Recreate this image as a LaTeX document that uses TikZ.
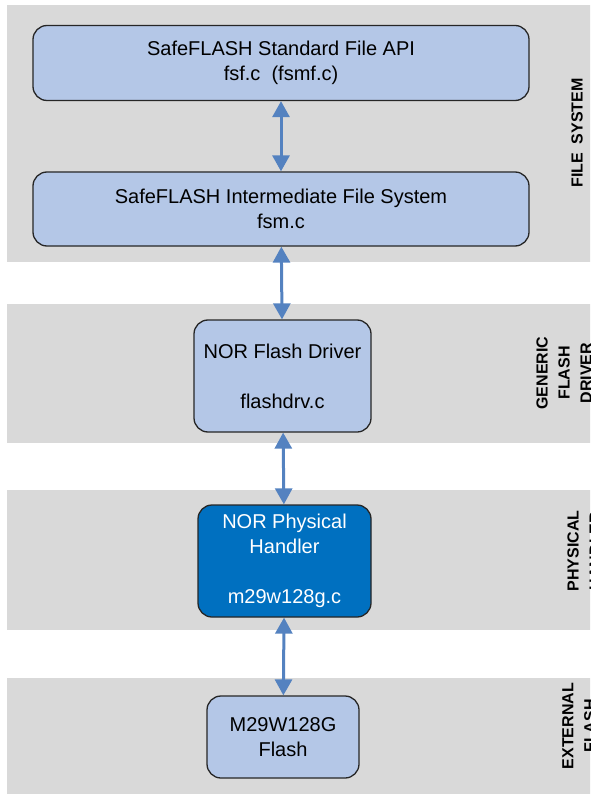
\documentclass[tikz,border=0pt]{standalone}
\usepackage{fontspec}
\setmainfont{Liberation Sans}
\usetikzlibrary{arrows.meta}

\definecolor{bandgray}{RGB}{217,217,217}
\definecolor{boxblue}{RGB}{180,199,231}
\definecolor{darkblue}{RGB}{0,112,192}
\definecolor{arrowblue}{RGB}{84,130,192}

\tikzset{
  layer/.style={fill=bandgray},
  module/.style={draw=black!85, line width=1.3pt, rounded corners=14pt, fill=boxblue,
    align=center, inner sep=0pt, font=\fontsize{20}{25}\selectfont},
  hwmodule/.style={module, fill=darkblue, text=white},
  tag/.style={rotate=90, align=center, inner sep=0pt, font=\fontsize{16}{22}\selectfont\bfseries},
  link/.style={arrowblue, line width=3pt,
    {Triangle[width=17pt,length=16pt]}-{Triangle[width=17pt,length=16pt]}},
}

\begin{document}
\begin{tikzpicture}[x=1pt, y=-1pt]

        \useasboundingbox (0,0) rectangle (590,794);
        \clip (0,0) rectangle (590,794);

        % Layers

        \fill[layer] (7,5) rectangle (600,262);
        \fill[layer] (7,304) rectangle (600,443);
        \fill[layer] (7,490) rectangle (600,630);
        \fill[layer] (7,678) rectangle (600,800);

        % Nodes

        \node[module, minimum width=496pt, minimum height=75pt] (api) at (281,63)
          {SafeFLASH Standard File API\\fsf.c\ \ (fsmf.c)};
        \node[module, minimum width=496pt, minimum height=74pt] (fsm) at (281,209)
          {SafeFLASH Intermediate File System\\fsm.c};
        \node[module, minimum width=177pt, minimum height=112pt] (drv) at (282.5,376)
          {NOR Flash Driver\\[25pt]flashdrv.c};
        \node[hwmodule, minimum width=173pt, minimum height=112pt] (phy) at (284.5,561)
          {NOR Physical\\Handler\\[25pt]m29w128g.c};
        \node[module, minimum width=152pt, minimum height=82pt] (chip) at (283,737)
          {M29W128G\\Flash};

        % Layer tags

        \node[tag] (fstag) at (577,133) {FILE\ \ SYSTEM};
        \node[tag] (drvtag) at (564,373) {GENERIC\\FLASH\\DRIVER};
        \node[tag] (phytag) at (584,551) {PHYSICAL\\HANDLER};
        \node[tag] (exttag) at (579,726) {EXTERNAL\\FLASH};

        % Edges

        \draw[link] (api) -- (fsm);
        \draw[link] (fsm) -- (drv);
        \draw[link] (drv) -- (phy);
        \draw[link] (phy) -- (chip);

\end{tikzpicture}
\end{document}
